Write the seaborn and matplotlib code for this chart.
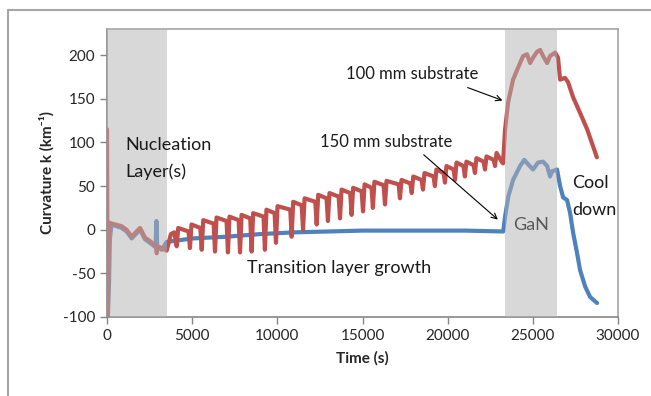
import numpy as np
import pandas as pd
import matplotlib.pyplot as plt
import seaborn as sns
from matplotlib.lines import Line2D

sns.set_style('white')
plt.rcParams['font.family'] = ['Lato', 'DejaVu Sans']
plt.rcParams['axes.unicode_minus'] = False

# red curve (100 mm substrate): nucleation part, teeth, GaN + cool down part
red_start_t = [0, 40, 120, 860, 1150, 1450, 1640, 1940, 2230, 2520, 2880, 2920, 2960, 3210, 3500, 3750, 3950]
red_start_v = [115, -100, 8, 4, 0, -8, -4, 2, -9, -13, -19, -27, -19, -21, -24, -5, -3]

tooth_t = [4090, 4870, 5560, 6340, 7100, 7810, 8490, 9270, 9920, 10840, 11510, 12310, 12970, 13680,
           14360, 15030, 15610, 16320, 17200, 17890, 18550, 19250, 19840, 20430, 21010, 21600, 22190, 22780]
tooth_bot = [-19, -21, -23, -25, -26, -26, -25, -23, -15, -8, 0, 6, 10, 13,
             17, 21, 25, 29, 36, 42, 46, 50, 54, 57, 61, 65, 69, 73]
tooth_top = [2, 6, 11, 14, 15, 17, 19, 23, 27, 32, 36, 40, 42, 46,
             48, 52, 55, 56, 57, 61, 65, 69, 73, 77, 78, 82, 84, 88]
tooth_shoulder = [-2, 2, 7, 10, 11, 13, 15, 19, 23, 28, 32, 36, 38, 42,
                  44, 48, 51, 52, 53, 57, 61, 65, 69, 73, 74, 78, 80, 78]

red_end_t = [23250, 23370, 23550, 23840, 24250, 24430, 24660, 24840, 25010, 25250, 25430, 25600,
             25840, 26010, 26310, 26480, 26600, 26890, 27070, 27360, 27770, 28190, 28760]
red_end_v = [76, 115, 146, 172, 191, 199, 201, 191, 197, 204, 206, 199,
             191, 199, 203, 197, 172, 174, 169, 152, 134, 115, 83]

# blue curve (150 mm substrate)
blue_t = [60, 120, 170, 270, 860, 1150, 1450, 1640, 1940, 2230, 2520, 2850, 2900, 2950, 3210, 3500,
          5000, 7000, 9000, 11000, 13000, 15000, 17000, 19000, 21000, 23260,
          23370, 23560, 23840, 24250, 24500, 24720, 25010, 25310, 25600, 25840, 26010, 26130,
          26420, 26600, 26780, 27010, 27190, 27360, 27600, 27770, 28070, 28360, 28770]
blue_v = [-95, -60, -10, 6, 2, -2, -10, -6, 0, -11, -15, -20, 10, -20, -23, -14,
          -10, -8, -5, -3, -2, -1, -1, -1, -1, -2,
          15, 38, 57, 73, 80, 75, 69, 77, 78, 73, 61, 67,
          69, 50, 37, 34, 19, -3, -27, -46, -65, -77, -84]

nucleation = (0, 3500)
gan = (23370, 26420)

# assemble red series
red_t = list(red_start_t)
red_v = list(red_start_v)
for i in range(len(tooth_t)):
    red_t += [tooth_t[i], tooth_t[i] + 90]
    red_v += [tooth_bot[i], tooth_top[i]]
    nxt = tooth_t[i + 1] if i + 1 < len(tooth_t) else red_end_t[0]
    red_t.append(nxt - 80)
    red_v.append(tooth_shoulder[i])
red_t += red_end_t
red_v += red_end_v

red_df = pd.DataFrame({'t': red_t, 'k': red_v})
blue_df = pd.DataFrame({'t': blue_t, 'k': blue_v})

fig = plt.figure(figsize=(6.51, 3.96), dpi=100)
ax = fig.add_axes([107 / 651, 1 - 317 / 396, (618 - 107) / 651, (317 - 29) / 396])

sns.lineplot(data=blue_df, x='t', y='k', sort=False, estimator=None, color='#4f81bd', lw=3, ax=ax, zorder=2)
sns.lineplot(data=red_df, x='t', y='k', sort=False, estimator=None, color='#c0504d', lw=3, ax=ax, zorder=3)

for a, b in [nucleation, gan]:
    ax.axvspan(a, b, color='#b3b3b3', alpha=0.5, lw=0, zorder=4)

ax.set_xlim(0, 30000)
ax.set_ylim(-100, 230)
ax.set_xticks(range(0, 30001, 5000))
ax.set_yticks(range(-100, 201, 50))
ax.tick_params(axis='both', labelsize=11, labelcolor='#262626', direction='out',
               length=5, width=1, color='#868686', left=True, bottom=True)
for s in ax.spines.values():
    s.set_color('#a6a6a6')
    s.set_linewidth(1.2)
ax.spines['left'].set_color('#868686')
ax.spines['bottom'].set_color('#868686')

ax.set_xlabel('Time (s)', fontsize=11, fontweight='bold', labelpad=6)
ax.set_ylabel('Curvature k (km\u207b\u00b9)', fontsize=11, fontweight='bold', labelpad=6)

txt = dict(fontsize=13, va='center', ha='left', color='#1a1a1a', zorder=6)
ax.text(1057, 97.5, 'Nucleation', **txt)
ax.text(1057, 66.5, 'Layer(s)', **txt)
ax.text(8220, -43.6, 'Transition layer growth', **txt)
ax.text(23830, 5.7, 'GaN', **{**txt, 'color': '#595959'})
ax.text(27290, 54, 'Cool', **txt)
ax.text(27290, 23, 'down', **txt)

arrow = dict(arrowstyle='->', color='black', lw=0.8)
ax.text(14030, 178, '100 mm substrate', fontsize=12, va='center', ha='left', color='#1a1a1a', zorder=6)
ax.annotate('', xy=(23370, 147), xytext=(21020, 164), arrowprops=arrow, zorder=6)
ax.text(12500, 101, '150 mm substrate', fontsize=12, va='center', ha='left', color='#1a1a1a', zorder=6)
ax.annotate('', xy=(23070, 9.5), xytext=(18470, 88), arrowprops=arrow, zorder=6)

# outer chart frame
fig.add_artist(Line2D([8 / 651, 1.0], [1 - 10 / 396, 1 - 10 / 396], color='#a6a6a6', lw=1.5))
fig.add_artist(Line2D([8 / 651, 8 / 651], [0.0, 1 - 10 / 396], color='#a6a6a6', lw=1.5))

fig.savefig('out.png', dpi=100)
